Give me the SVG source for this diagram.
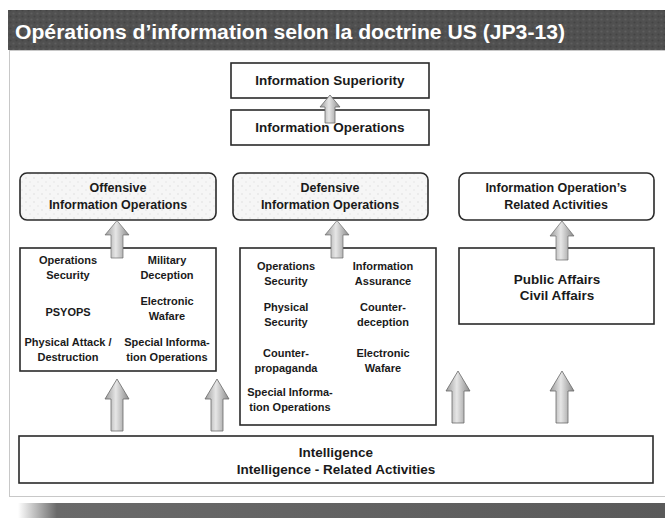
<svg xmlns="http://www.w3.org/2000/svg" width="665" height="518" viewBox="0 0 665 518">
<defs>
<linearGradient id="arrowGrad" x1="0" y1="0" x2="1" y2="0">
<stop offset="0" stop-color="#9a9a9a"/>
<stop offset="0.45" stop-color="#e6e6e6"/>
<stop offset="1" stop-color="#8a8a8a"/>
</linearGradient>
<linearGradient id="shadowGrad" x1="0" y1="0" x2="1" y2="0">
<stop offset="0" stop-color="#ffffff"/>
<stop offset="0.06" stop-color="#6a6a6a"/>
<stop offset="1" stop-color="#5a5a5a"/>
</linearGradient>
<pattern id="tex" width="6" height="6" patternUnits="userSpaceOnUse">
<rect width="6" height="6" fill="#505050"/>
<circle cx="1.5" cy="1.5" r="1.1" fill="#5e5e5e"/>
<circle cx="4.5" cy="4.5" r="1.1" fill="#444"/>
</pattern>
<pattern id="lightTex" width="8" height="8" patternUnits="userSpaceOnUse">
<rect width="8" height="8" fill="#f6f6f6"/>
<circle cx="2" cy="2" r="1" fill="#e8e8e8"/>
<circle cx="6" cy="6" r="1" fill="#ececec"/>
</pattern>
<path id="arrowBig" d="M-6,0 V-32 H-12 L0,-52 L12,-32 H6 V0 Z"/>
</defs>
<style>
text{font-family:"Liberation Sans",Arial,sans-serif;font-weight:bold;fill:#1a1a1a;text-anchor:middle}
.box{fill:#fff;stroke:#2a2a2a;stroke-width:1.6}
.hdr{fill:url(#lightTex);stroke:#2a2a2a;stroke-width:1.6}
.hdrw{fill:#fff;stroke:#2a2a2a;stroke-width:1.6}
.arrow{fill:url(#arrowGrad);stroke:#6a6a6a;stroke-width:0.8}
.t11{font-size:11px}
.t12{font-size:12.5px}
.t13{font-size:13.5px}
.ti{font-size:13.5px}
</style>
<rect width="665" height="518" fill="#fff"/>
<!-- title bar -->
<rect x="8" y="10" width="657" height="40" fill="url(#tex)"/>
<text x="15" y="39" style="font-size:20px;fill:#fff;text-anchor:start" textLength="550" lengthAdjust="spacingAndGlyphs">Opérations d’information selon la doctrine US (JP3-13)</text>
<!-- panel -->
<rect x="9.5" y="50.5" width="660" height="446" fill="#fff" stroke="#c8c8c8" stroke-width="1"/>
<!-- bottom shadow strip -->
<rect x="18" y="503" width="647" height="15" fill="url(#shadowGrad)"/>

<g id="info-superiority">
<rect class="box" x="231" y="63" width="198" height="35"/>
<text class="t13" x="330" y="85">Information Superiority</text>
</g>
<g id="info-operations">
<rect class="box" x="231" y="110" width="198" height="35"/>
<text class="t13" x="330" y="132">Information Operations</text>
</g>

<g id="offensive-io">
<rect class="hdr" x="20" y="173" width="196" height="47" rx="7"/>
<text class="t12" x="118" y="192">Offensive</text>
<text class="t12" x="118" y="209">Information Operations</text>
</g>
<g id="defensive-io">
<rect class="hdr" x="233" y="173" width="195" height="47" rx="7"/>
<text class="t12" x="330" y="192">Defensive</text>
<text class="t12" x="330" y="209">Information Operations</text>
</g>
<g id="related-io">
<rect class="hdrw" x="459" y="173" width="195" height="47" rx="7"/>
<text class="t12" x="556" y="192">Information Operation’s</text>
<text class="t12" x="556" y="209">Related Activities</text>
</g>

<g id="offensive-list">
<rect class="box" x="20" y="248" width="196" height="123"/>
<text class="t11" x="68" y="264">Operations</text>
<text class="t11" x="68" y="279">Security</text>
<text class="t11" x="167" y="264">Military</text>
<text class="t11" x="167" y="279">Deception</text>
<text class="t11" x="68" y="316">PSYOPS</text>
<text class="t11" x="167" y="305">Electronic</text>
<text class="t11" x="167" y="320">Wafare</text>
<text class="t11" x="68" y="346">Physical Attack /</text>
<text class="t11" x="68" y="361">Destruction</text>
<text class="t11" x="167" y="346">Special Informa-</text>
<text class="t11" x="167" y="361">tion Operations</text>
</g>

<g id="defensive-list">
<rect class="box" x="240" y="248" width="196" height="177"/>
<text class="t11" x="286" y="270">Operations</text>
<text class="t11" x="286" y="285">Security</text>
<text class="t11" x="383" y="270">Information</text>
<text class="t11" x="383" y="285">Assurance</text>
<text class="t11" x="286" y="311">Physical</text>
<text class="t11" x="286" y="326">Security</text>
<text class="t11" x="383" y="311">Counter-</text>
<text class="t11" x="383" y="326">deception</text>
<text class="t11" x="286" y="357">Counter-</text>
<text class="t11" x="286" y="372">propaganda</text>
<text class="t11" x="383" y="357">Electronic</text>
<text class="t11" x="383" y="372">Wafare</text>
<text class="t11" x="290" y="396">Special Informa-</text>
<text class="t11" x="290" y="411">tion Operations</text>
</g>

<g id="public-affairs">
<rect class="box" x="459" y="248" width="195" height="76"/>
<text class="t13" x="557" y="284">Public Affairs</text>
<text class="t13" x="557" y="300">Civil Affairs</text>
</g>

<g id="intelligence">
<rect class="box" x="19" y="436" width="634" height="47"/>
<text class="ti" x="336" y="457">Intelligence</text>
<text class="ti" x="336" y="474">Intelligence - Related Activities</text>
</g>

<g id="connectors">
<path class="arrow" d="M325,123 V107 H320 L330,95 L340,107 H335 V123 Z"/>
<use href="#arrowBig" class="arrow" transform="translate(117,258) scale(1,0.72)"/>
<use href="#arrowBig" class="arrow" transform="translate(337,258) scale(1,0.72)"/>
<use href="#arrowBig" class="arrow" transform="translate(562,260) scale(1,0.75)"/>
<use href="#arrowBig" class="arrow" transform="translate(117,431)"/>
<use href="#arrowBig" class="arrow" transform="translate(217,431)"/>
<use href="#arrowBig" class="arrow" transform="translate(458,423)"/>
<use href="#arrowBig" class="arrow" transform="translate(562,423)"/>
</g>
</svg>
